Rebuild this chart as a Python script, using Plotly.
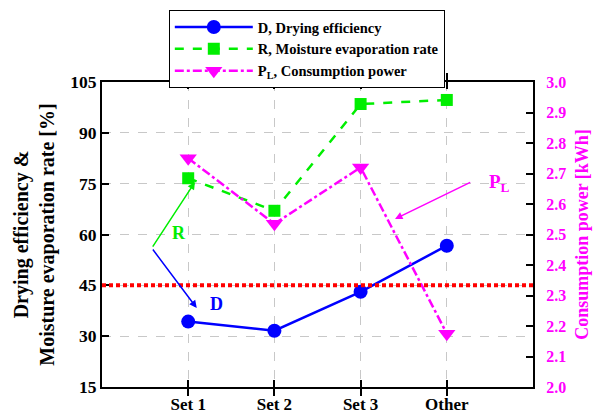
import plotly.graph_objects as go

categories = ["Set 1", "Set 2", "Set 3", "Other"]
drying_eff = [34.3, 31.6, 43.1, 56.7]
moist_rate = [76.6, 67.0, 98.5, 99.7]
power = [2.75, 2.535, 2.72, 2.175]
left_ticks = [15, 30, 45, 60, 75, 90, 105]
right_ticks = [2.0, 2.1, 2.2, 2.3, 2.4, 2.5, 2.6, 2.7, 2.8, 2.9, 3.0]
threshold = 45

FONT = "Liberation Serif"
BLUE = "#0000ff"
GREEN = "#00ee00"
MAGENTA = "#ff00ff"

xs = list(range(len(categories)))

fig = go.Figure()
fig.add_trace(go.Scatter(
    x=xs, y=drying_eff, name="D, Drying efficiency", mode="lines+markers",
    line=dict(color=BLUE, width=2.5), marker=dict(symbol="circle", size=14, color=BLUE)))
fig.add_trace(go.Scatter(
    x=xs, y=moist_rate, name="R, Moisture evaporation rate", mode="lines+markers",
    line=dict(color=GREEN, width=2.5, dash="dash"), marker=dict(symbol="square", size=12, color=GREEN)))
fig.add_trace(go.Scatter(
    x=xs, y=power, name="P<sub>L</sub>, Consumption power", mode="lines+markers", yaxis="y2",
    line=dict(color=MAGENTA, width=2.5, dash="dashdot"),
    marker=dict(symbol="triangle-down", size=15, color=MAGENTA)))

# threshold line
fig.add_shape(type="line", xref="paper", x0=0, x1=1, yref="y", y0=threshold, y1=threshold,
              line=dict(color="#ff0000", width=4, dash="4px,3px"))

ann = []
tail = (-0.423, 56.0)
ann.append(dict(x=0.079, y=75.5, ax=tail[0], ay=tail[1], xref="x", yref="y", axref="x", ayref="y",
                text="", showarrow=True, arrowhead=2, arrowsize=1, arrowwidth=1.5, arrowcolor=GREEN))
ann.append(dict(x=0.099, y=38.3, ax=tail[0], ay=tail[1], xref="x", yref="y", axref="x", ayref="y",
                text="", showarrow=True, arrowhead=2, arrowsize=1, arrowwidth=1.5, arrowcolor=BLUE))
ann.append(dict(x=2.399, y=64.6, ax=3.289, ay=75.6, xref="x", yref="y", axref="x", ayref="y",
                text="", showarrow=True, arrowhead=2, arrowsize=1, arrowwidth=1.5, arrowcolor=MAGENTA))
ann.append(dict(x=-0.107, y=60.4, xref="x", yref="y", text="R", showarrow=False,
                font=dict(family=FONT, size=18, color=GREEN, weight="bold")))
ann.append(dict(x=0.334, y=39.5, xref="x", yref="y", text="D", showarrow=False,
                font=dict(family=FONT, size=18, color=BLUE, weight="bold")))
ann.append(dict(x=3.466, y=75.2, xref="x", yref="y", text="P<sub>L</sub>", showarrow=False,
                xanchor="left", font=dict(family=FONT, size=19, color=MAGENTA, weight="bold")))

fig.update_layout(
    width=606, height=416,
    margin=dict(l=102, r=73, t=82, b=29, autoexpand=False),
    paper_bgcolor="white", plot_bgcolor="white",
    font=dict(family=FONT, color="black", weight="bold"),
    showlegend=True,
    legend=dict(x=0.155, y=1.236, xanchor="left", yanchor="top",
                bgcolor="white", bordercolor="black", borderwidth=1,
                font=dict(family=FONT, size=14.5, color="black", weight="bold"),
                itemwidth=78, tracegroupgap=0),
    xaxis=dict(
        range=[-1, 4], tickvals=xs, ticktext=categories, automargin=False,
        showline=True, linecolor="black", linewidth=2, mirror="allticks",
        ticks="inside", ticklen=7, tickwidth=1.5, tickcolor="black",
        showgrid=True, gridcolor="#c8c8c8", griddash="dash", gridwidth=1,
        zeroline=False, ticklabelstandoff=1,
        tickfont=dict(family=FONT, size=17, color="black", weight="bold")),
    yaxis=dict(
        range=[15, 105], tickvals=left_ticks, automargin=False,
        showline=True, linecolor="black", linewidth=2,
        ticks="inside", ticklen=7, tickwidth=1.5, tickcolor="black",
        showgrid=True, gridcolor="#c8c8c8", griddash="dash", gridwidth=1,
        zeroline=False,
        tickfont=dict(family=FONT, size=17.5, color="black", weight="bold"),
        title=dict(text="Drying efficiency &<br>Moisture evaporation rate [%]", standoff=10,
                   font=dict(family=FONT, size=20, color="black", weight="bold"))),
    yaxis2=dict(
        range=[2.0, 3.0], tickvals=right_ticks, tickformat=".1f", automargin=False,
        overlaying="y", side="right",
        showline=True, linecolor="black", linewidth=2,
        ticks="inside", ticklen=7, tickwidth=1.5, tickcolor="black",
        showgrid=False, zeroline=False, ticklabelstandoff=8,
        tickfont=dict(family=FONT, size=16, color=MAGENTA, weight="bold"),
        title=dict(text="Consumption power [kWh]", standoff=10,
                   font=dict(family=FONT, size=18, color=MAGENTA, weight="bold"))),
    annotations=ann,
)

fig.write_html("out.html")
